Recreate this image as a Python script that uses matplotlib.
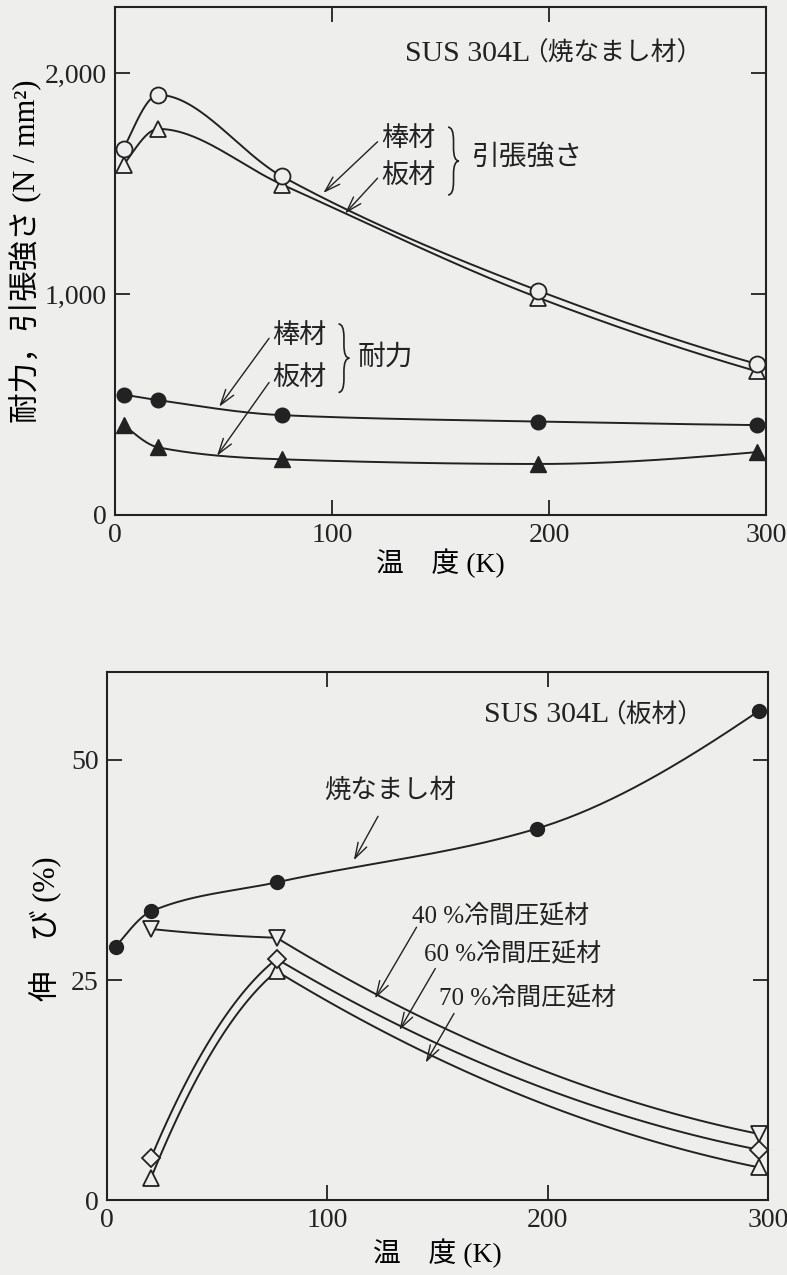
import numpy as np
import matplotlib
matplotlib.use("Agg")
import matplotlib.pyplot as plt
from matplotlib.path import Path
from matplotlib.patches import PathPatch

# ---------------- data ----------------
temps = [4, 20, 77, 195, 296]
tensile_bar = [1659, 1902, 1533, 1016, 683]      # 棒材 引張強さ (open circle)
tensile_plate = [1585, 1748, 1496, 984, 650]     # 板材 引張強さ (open triangle)
yield_bar = [545, 520, 452, 423, 407]            # 棒材 耐力 (filled circle)
yield_plate = [407, 306, 252, 231, 285]          # 板材 耐力 (filled triangle)

temps_annealed = [4, 20, 77, 195, 296]
elong_annealed = [28.8, 32.8, 36.1, 42.2, 55.6]  # 焼なまし材
temps_cold = [20, 77, 296]
elong_cr40 = [30.8, 29.8, 7.5]                   # 40 % 冷間圧延材
elong_cr60 = [4.8, 27.4, 5.7]                    # 60 % 冷間圧延材
elong_cr70 = [2.5, 26.0, 3.7]                    # 70 % 冷間圧延材

xticks = [0, 100, 200, 300]
yticks_top = [0, 1000, 2000]
yticks_top_labels = ["0", "1,000", "2,000"]
yticks_bot = [0, 25, 50]

# ---------------- helpers ----------------
def pchip_slopes(x, y):
    x = np.asarray(x, float); y = np.asarray(y, float)
    h = np.diff(x); d = np.diff(y) / h
    n = len(x); m = np.zeros(n)
    for k in range(1, n - 1):
        if d[k - 1] * d[k] > 0:
            w1 = 2 * h[k] + h[k - 1]; w2 = h[k] + 2 * h[k - 1]
            m[k] = (w1 + w2) / (w1 / d[k - 1] + w2 / d[k])
    def end(h0, h1, d0, d1):
        mm = ((2 * h0 + h1) * d0 - h0 * d1) / (h0 + h1)
        if np.sign(mm) != np.sign(d0):
            mm = 0
        elif np.sign(d0) != np.sign(d1) and abs(mm) > abs(3 * d0):
            mm = 3 * d0
        return mm
    m[0] = end(h[0], h[1], d[0], d[1])
    m[-1] = end(h[-1], h[-2], d[-1], d[-2])
    return [(m[i], m[i + 1]) for i in range(n - 1)]

def corner_slopes(x, y):
    x = np.asarray(x, float); y = np.asarray(y, float)
    d = np.diff(y) / np.diff(x)
    return [(1.5 * di, 0.5 * di) for di in d]

def hermite(x, y, slopes, npts=60):
    xs_all, ys_all = [], []
    for i in range(len(x) - 1):
        x0, x1 = x[i], x[i + 1]; y0, y1 = y[i], y[i + 1]
        m0, m1 = slopes[i]; h = x1 - x0
        t = np.linspace(0, 1, npts)
        h00 = 2 * t**3 - 3 * t**2 + 1; h10 = t**3 - 2 * t**2 + t
        h01 = -2 * t**3 + 3 * t**2; h11 = t**3 - t**2
        xs_all.append(x0 + t * h)
        ys_all.append(h00 * y0 + h10 * h * m0 + h01 * y1 + h11 * h * m1)
    return np.concatenate(xs_all), np.concatenate(ys_all)

def brace(ax, x0, yt, yb, w, q, lw=1.2):
    ym = 0.5 * (yt + yb); xm = x0 + w / 2
    verts = [(x0, yt), (xm, yt), (xm, yt - q), (xm, ym + q), (xm, ym), (x0 + w, ym),
             (xm, ym), (xm, ym - q), (xm, yb + q), (xm, yb), (x0, yb)]
    codes = [Path.MOVETO, Path.CURVE3, Path.CURVE3, Path.LINETO, Path.CURVE3, Path.CURVE3,
             Path.CURVE3, Path.CURVE3, Path.LINETO, Path.CURVE3, Path.CURVE3]
    ax.add_patch(PathPatch(Path(verts, codes), fill=False, lw=lw, color=INK))

def arrow(ax, start, head):
    ax.annotate("", xy=head, xytext=start,
                arrowprops=dict(arrowstyle="->,head_length=0.7,head_width=0.22",
                                lw=1.0, color=INK, shrinkA=0, shrinkB=0,
                                mutation_scale=16))

# ---------------- style ----------------
BG = "#eeeeec"
INK = "#222222"
CJK = ["Noto Sans CJK JP", "DejaVu Sans"]
MIX = ["Liberation Serif", "Noto Sans CJK JP", "DejaVu Sans"]
NUM = ["Liberation Serif", "DejaVu Serif"]

plt.rcParams["axes.linewidth"] = 1.5
plt.rcParams["text.color"] = INK

fig = plt.figure(figsize=(7.87, 12.75), dpi=100, facecolor=BG)
ax1 = fig.add_axes([115 / 787, 1 - 515 / 1275, (766 - 115) / 787, (515 - 7) / 1275])
ax2 = fig.add_axes([107 / 787, 1 - 1200 / 1275, (768 - 107) / 787, (1200 - 672) / 1275])

for ax in (ax1, ax2):
    ax.set_facecolor(BG)
    for s in ax.spines.values():
        s.set_color(INK)
    ax.tick_params(direction="in", length=11, width=1.3, top=True, right=True,
                   colors=INK, labelsize=20, pad=6)
    ax.set_xlim(0, 300)
    ax.set_xticks(xticks)
    ax.set_xticklabels([str(t) for t in xticks], fontfamily=NUM, fontsize=20)

# ---------------- top chart ----------------
lw = 1.4
for vals in (tensile_bar, tensile_plate, yield_bar, yield_plate):
    xs, ys = hermite(temps, vals, pchip_slopes(temps, vals))
    ax1.plot(xs, ys, color=INK, lw=lw, zorder=2)

ax1.plot(temps, tensile_plate, ls="none", marker="^", ms=12, mfc=BG, mec=INK, mew=1.3, zorder=3, clip_on=False)
ax1.plot(temps, tensile_bar, ls="none", marker="o", ms=11.5, mfc=BG, mec=INK, mew=1.3, zorder=4, clip_on=False)
ax1.plot(temps, yield_bar, ls="none", marker="o", ms=10.5, mfc=INK, mec=INK, zorder=4, clip_on=False)
ax1.plot(temps, yield_plate, ls="none", marker="^", ms=11.5, mfc=INK, mec=INK, zorder=4, clip_on=False)

ax1.set_ylim(0, 2300)
ax1.set_yticks(yticks_top)
ax1.set_yticklabels(yticks_top_labels, fontfamily=NUM, fontsize=20)
ax1.set_xlabel("温　度 (K)", fontfamily=MIX, fontsize=20, labelpad=0)
ax1.set_ylabel("耐力，引張強さ (N / mm²)", fontfamily=MIX, fontsize=22)
ax1.yaxis.set_label_coords(-0.112, 0.52)

ax1.text(133.6, 2088, "SUS 304L", fontfamily=NUM, fontsize=21.5, ha="left", va="center")
ax1.text(187.5, 2088, "（焼なまし材）", fontfamily=CJK, fontsize=18.5, ha="left", va="center")
ax1.text(135.3, 1707, "棒材", fontfamily=CJK, fontsize=19.5, ha="center", va="center")
ax1.text(135.3, 1539, "板材", fontfamily=CJK, fontsize=19.5, ha="center", va="center")
brace(ax1, 153.5, 1756, 1449, 5.0, 60)
ax1.text(164.5, 1621, "引張強さ", fontfamily=CJK, fontsize=20, ha="left", va="center")
arrow(ax1, (121, 1690), (96, 1458))
arrow(ax1, (121, 1525), (106, 1365))

ax1.text(85, 812, "棒材", fontfamily=CJK, fontsize=19.5, ha="center", va="center")
ax1.text(85, 623, "板材", fontfamily=CJK, fontsize=19.5, ha="center", va="center")
brace(ax1, 103, 865, 555, 5.0, 60)
ax1.text(112, 718, "耐力", fontfamily=CJK, fontsize=20, ha="left", va="center")
arrow(ax1, (71, 800), (48, 490))
arrow(ax1, (71, 600), (47, 268))

# ---------------- bottom chart ----------------
xs, ys = hermite(temps_annealed, elong_annealed, pchip_slopes(temps_annealed, elong_annealed))
ax2.plot(xs, ys, color=INK, lw=lw, zorder=2)
for vals in (elong_cr40, elong_cr60, elong_cr70):
    xs, ys = hermite(temps_cold, vals, corner_slopes(temps_cold, vals))
    ax2.plot(xs, ys, color=INK, lw=lw, zorder=2)

ax2.plot(temps_annealed, elong_annealed, ls="none", marker="o", ms=10, mfc=INK, mec=INK, zorder=4, clip_on=False)
ax2.plot(temps_cold, elong_cr70, ls="none", marker="^", ms=12, mfc=BG, mec=INK, mew=1.3, zorder=3, clip_on=False)
ax2.plot(temps_cold, elong_cr60, ls="none", marker="D", ms=9.5, mfc=BG, mec=INK, mew=1.3, zorder=4, clip_on=False)
ax2.plot(temps_cold, elong_cr40, ls="none", marker="v", ms=12, mfc=BG, mec=INK, mew=1.3, zorder=5, clip_on=False)

ax2.set_ylim(0, 60)
ax2.set_yticks(yticks_bot)
ax2.set_yticklabels([str(t) for t in yticks_bot], fontfamily=NUM, fontsize=20)
ax2.set_xlabel("温　度 (K)", fontfamily=MIX, fontsize=20, labelpad=4)
ax2.set_ylabel("伸　び (%)", fontfamily=MIX, fontsize=22)
ax2.yaxis.set_label_coords(-0.068, 0.513)

ax2.text(171, 55.1, "SUS 304L", fontfamily=NUM, fontsize=21.5, ha="left", va="center")
ax2.text(224, 55.1, "（板材）", fontfamily=CJK, fontsize=18.5, ha="left", va="center")
ax2.text(98.5, 46.5, "焼なまし材", fontfamily=CJK, fontsize=19, ha="left", va="center")
arrow(ax2, (123, 43.6), (112, 38.6))

ax2.text(138.5, 32.3, "40 %冷間圧延材", fontfamily=MIX, fontsize=18, ha="left", va="center")
ax2.text(144, 27.9, "60 %冷間圧延材", fontfamily=MIX, fontsize=18, ha="left", va="center")
ax2.text(150.5, 22.9, "70 %冷間圧延材", fontfamily=MIX, fontsize=18, ha="left", va="center")
arrow(ax2, (140.5, 31.0), (121.6, 22.9))
arrow(ax2, (149, 26.3), (132.7, 19.3))
arrow(ax2, (157.5, 21.2), (144.6, 15.6))

fig.savefig("out.png", dpi=100, facecolor=BG)
